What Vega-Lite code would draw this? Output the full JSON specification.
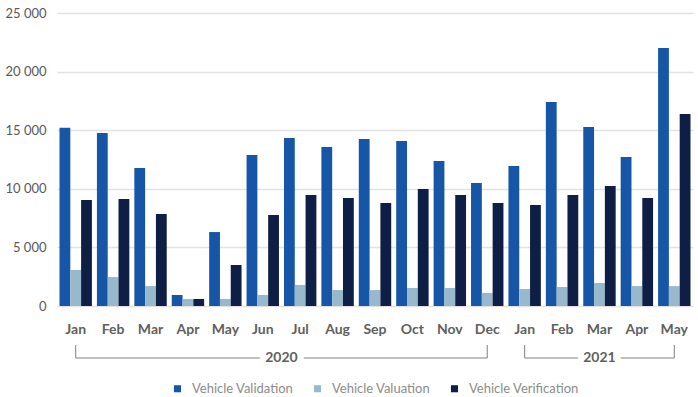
{
  "$schema": "https://vega.github.io/schema/vega-lite/v6.json",
  "padding": {"left": 4, "top": 7, "right": 4, "bottom": 0},
  "config": {
    "font": "Lato",
    "view": {"stroke": null},
    "concat": {"spacing": 8},
    "legend": {"layout": {"anchor": "middle"}}
  },
  "datasets": {
    "monthly": [
      {"period": "Jan 2020", "Vehicle Validation": 15200, "Vehicle Valuation": 3070, "Vehicle Verification": 9040},
      {"period": "Feb 2020", "Vehicle Validation": 14760, "Vehicle Valuation": 2470, "Vehicle Verification": 9130},
      {"period": "Mar 2020", "Vehicle Validation": 11770, "Vehicle Valuation": 1700, "Vehicle Verification": 7850},
      {"period": "Apr 2020", "Vehicle Validation": 940, "Vehicle Valuation": 600, "Vehicle Verification": 600},
      {"period": "May 2020", "Vehicle Validation": 6310, "Vehicle Valuation": 600, "Vehicle Verification": 3500},
      {"period": "Jun 2020", "Vehicle Validation": 12880, "Vehicle Valuation": 940, "Vehicle Verification": 7760},
      {"period": "Jul 2020", "Vehicle Validation": 14330, "Vehicle Valuation": 1790, "Vehicle Verification": 9470},
      {"period": "Aug 2020", "Vehicle Validation": 13570, "Vehicle Valuation": 1360, "Vehicle Verification": 9220},
      {"period": "Sep 2020", "Vehicle Validation": 14250, "Vehicle Valuation": 1360, "Vehicle Verification": 8790},
      {"period": "Oct 2020", "Vehicle Validation": 14080, "Vehicle Valuation": 1540, "Vehicle Verification": 9980},
      {"period": "Nov 2020", "Vehicle Validation": 12370, "Vehicle Valuation": 1540, "Vehicle Verification": 9470},
      {"period": "Dec 2020", "Vehicle Validation": 10490, "Vehicle Valuation": 1110, "Vehicle Verification": 8790},
      {"period": "Jan 2021", "Vehicle Validation": 11950, "Vehicle Valuation": 1450, "Vehicle Verification": 8620},
      {"period": "Feb 2021", "Vehicle Validation": 17400, "Vehicle Valuation": 1620, "Vehicle Verification": 9470},
      {"period": "Mar 2021", "Vehicle Validation": 15270, "Vehicle Valuation": 1960, "Vehicle Verification": 10240},
      {"period": "Apr 2021", "Vehicle Validation": 12710, "Vehicle Valuation": 1700, "Vehicle Verification": 9220},
      {"period": "May 2021", "Vehicle Validation": 22010, "Vehicle Valuation": 1700, "Vehicle Verification": 16380}
    ],
    "brackets": [
      {"year": "2020", "first": 1, "last": 12},
      {"year": "2021", "first": 13, "last": 17}
    ]
  },
  "vconcat": [
    {
      "width": 636,
      "height": 293,
      "data": {"name": "monthly"},
      "transform": [
        {"fold": ["Vehicle Validation", "Vehicle Valuation", "Vehicle Verification"], "as": ["series", "count"]}
      ],
      "mark": {"type": "bar"},
      "encoding": {
        "x": {
          "field": "period",
          "type": "nominal",
          "scale": {
            "domain": ["Jan 2020", "Feb 2020", "Mar 2020", "Apr 2020", "May 2020", "Jun 2020", "Jul 2020", "Aug 2020", "Sep 2020", "Oct 2020", "Nov 2020", "Dec 2020", "Jan 2021", "Feb 2021", "Mar 2021", "Apr 2021", "May 2021"],
            "paddingInner": 0.134,
            "paddingOuter": 0.067
          },
          "axis": {
            "title": null,
            "labelExpr": "substring(datum.label, 0, 3)",
            "labelFontWeight": "bold",
            "labelFontSize": 14,
            "labelColor": "#5f5f5f",
            "labelPadding": 16,
            "labelAngle": 0,
            "ticks": false,
            "domain": false
          }
        },
        "xOffset": {
          "field": "series",
          "type": "nominal",
          "sort": ["Vehicle Validation", "Vehicle Valuation", "Vehicle Verification"],
          "scale": {"paddingInner": 0, "paddingOuter": 0}
        },
        "y": {
          "field": "count",
          "type": "quantitative",
          "scale": {"domain": [0, 25000]},
          "axis": {
            "title": null,
            "values": [0, 5000, 10000, 15000, 20000, 25000],
            "labelExpr": "replace(format(datum.value, ','), ',', ' ')",
            "domain": false,
            "ticks": false,
            "labelPadding": 11,
            "labelFontSize": 13,
            "labelColor": "#595959",
            "gridColor": "#e2e2e2",
            "gridWidth": 1.5
          }
        },
        "color": {
          "field": "series",
          "type": "nominal",
          "scale": {
            "domain": ["Vehicle Validation", "Vehicle Valuation", "Vehicle Verification"],
            "range": ["#1756a6", "#98b8cc", "#0e1e45"]
          },
          "legend": {
            "title": null,
            "orient": "bottom",
            "direction": "horizontal",
            "symbolType": "square",
            "symbolSize": 50,
            "symbolStrokeWidth": 0,
            "labelFontSize": 13,
            "labelColor": "#8c8c8c",
            "labelOffset": 8,
            "columnPadding": 17,
            "offset": 17
          }
        }
      }
    },
    {
      "width": 636,
      "height": 13,
      "data": {"name": "brackets"},
      "encoding": {
        "y": {"datum": 0, "type": "quantitative", "scale": {"domain": [0, 1]}, "axis": null}
      },
      "layer": [
        {
          "mark": {"type": "rule", "color": "#808080", "strokeWidth": 1},
          "encoding": {
            "x": {"field": "first", "type": "quantitative", "scale": {"domain": [0.5, 17.5], "nice": false, "zero": false}, "axis": null},
            "x2": {"field": "last"}
          }
        },
        {
          "transform": [{"fold": ["first", "last"], "as": ["side", "month"]}],
          "mark": {"type": "rule", "color": "#808080", "strokeWidth": 1},
          "encoding": {
            "x": {"field": "month", "type": "quantitative"},
            "y2": {"datum": 1}
          }
        },
        {
          "transform": [{"fold": ["first", "last"], "as": ["side", "month"]}],
          "mark": {"type": "text", "color": "white", "stroke": "white", "strokeWidth": 13, "strokeJoin": "round", "fontWeight": "bold", "fontSize": 14, "baseline": "middle"},
          "encoding": {
            "x": {"field": "month", "type": "quantitative", "aggregate": "mean"},
            "text": {"field": "year"}
          }
        },
        {
          "transform": [{"fold": ["first", "last"], "as": ["side", "month"]}],
          "mark": {"type": "text", "color": "#5f5f5f", "fontWeight": "bold", "fontSize": 14, "baseline": "middle"},
          "encoding": {
            "x": {"field": "month", "type": "quantitative", "aggregate": "mean"},
            "text": {"field": "year"}
          }
        }
      ]
    }
  ],
  "resolve": {"scale": {"x": "independent"}}
}
